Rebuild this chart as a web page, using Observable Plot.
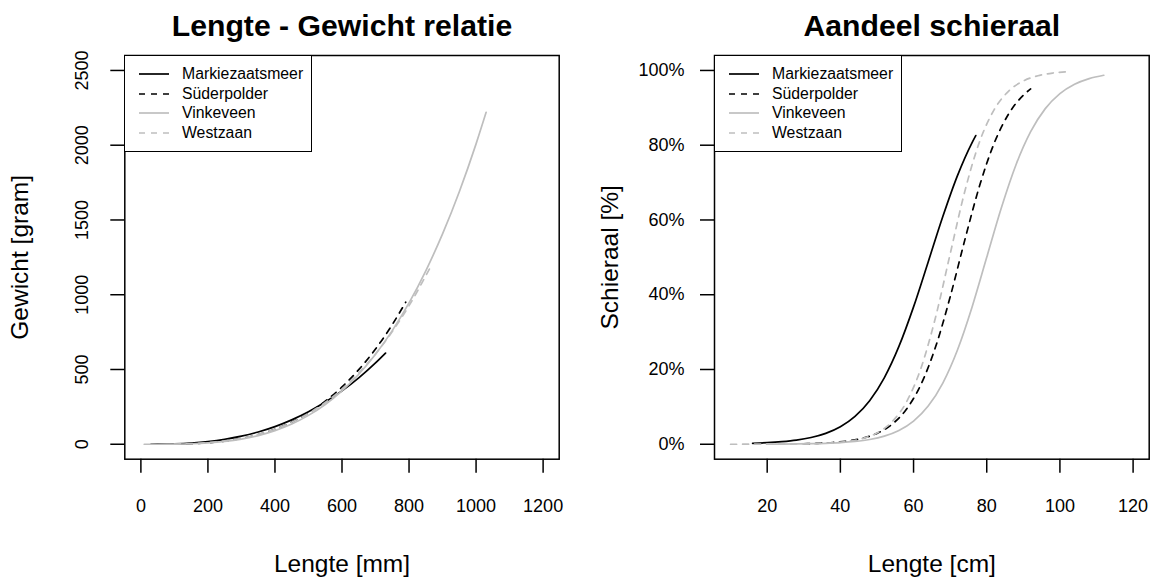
<!DOCTYPE html>
<html><head><meta charset="utf-8">
<script src="https://cdn.jsdelivr.net/npm/d3@7"></script>
<script src="https://cdn.jsdelivr.net/npm/@observablehq/plot@0.6"></script>
<style>
body{margin:0;background:#fff;font-family:"Liberation Sans",Arial,sans-serif;}
#wrap{position:relative;width:1151px;height:579px;overflow:hidden;background:#fff;}
.panel{position:absolute;top:0;}
.legend{position:absolute;top:55px;width:188px;height:97px;border:1.5px solid #000;box-sizing:border-box;background:#fff;}
.legend .row{position:absolute;left:0;height:20px;width:186px;}
.legend .row svg{position:absolute;left:13px;top:0;}
.legend .row span{position:absolute;left:57px;top:1px;font-size:15.8px;line-height:18px;color:#000;white-space:nowrap;}
</style></head><body><div id="wrap"></div>
<script>
// ---- series ----
const seriesNames = ["Markiezaatsmeer", "Süderpolder", "Vinkeveen", "Westzaan"];
const seriesColors = ["#000000", "#000000", "#bebebe", "#bebebe"];
const seriesDash = [null, "6,6", null, "6,6"];

// ---- Lengte - Gewicht relatie (length mm, weight gram) ----
const lwMarkLen = [30, 50, 100, 150, 200, 250, 300, 350, 400, 450, 500, 550, 600, 650, 700, 730];
const lwMarkW = [0.1, 0.4, 2.7, 8.1, 17.8, 32.8, 53.8, 82, 118, 163, 217, 282, 357, 444, 544, 610];
const lwSudLen = [100, 150, 200, 250, 300, 350, 400, 450, 500, 550, 600, 650, 700, 750, 790];
const lwSudW = [1.0, 4.0, 10.2, 21.3, 38.9, 64.7, 100.5, 148, 210, 288, 383, 499, 637, 800, 950];
const lwVinkLen = [10, 50, 100, 150, 200, 250, 300, 350, 400, 450, 500, 550, 600, 650, 700, 750, 800, 850, 900, 950, 1000, 1030];
const lwVinkW = [0, 0.1, 0.8, 3.3, 8.7, 18.5, 34.3, 57.8, 90.8, 135, 193, 266, 357, 468, 602, 760, 945, 1160, 1407, 1689, 2009, 2220];
const lwWestLen = [100, 150, 200, 250, 300, 350, 400, 450, 500, 550, 600, 650, 700, 750, 800, 865];
const lwWestW = [1.2, 4.4, 11.0, 22.4, 40.1, 65.8, 101, 147, 206, 279, 369, 477, 604, 754, 927, 1190];

// ---- Aandeel schieraal (length cm, proportion) ----
const sMarkLen = [16, 20, 24, 28, 32, 36, 40, 44, 48, 52, 56, 60, 64, 68, 72, 76, 77];
const sMarkP = [0.0025, 0.0041, 0.0068, 0.0110, 0.0180, 0.0292, 0.0469, 0.0746, 0.1166, 0.1778, 0.2617, 0.3675, 0.4878, 0.6092, 0.7187, 0.8072, 0.8258];
const sSudLen = [30, 34, 38, 42, 46, 50, 54, 58, 62, 66, 70, 74, 78, 82, 86, 90, 92];
const sSudP = [0.0014, 0.0026, 0.0047, 0.0087, 0.0159, 0.0291, 0.0525, 0.0930, 0.1595, 0.2600, 0.3939, 0.5461, 0.6900, 0.8046, 0.8840, 0.9338, 0.9505];
const sVinkLen = [20, 24, 28, 32, 36, 40, 44, 48, 52, 56, 60, 64, 68, 72, 76, 80, 84, 88, 92, 96, 100, 104, 108, 112];
const sVinkP = [0.0003, 0.0005, 0.0009, 0.0015, 0.0025, 0.0043, 0.0075, 0.0128, 0.0218, 0.0369, 0.0620, 0.1021, 0.1638, 0.2522, 0.3674, 0.5, 0.6326, 0.7478, 0.8362, 0.8979, 0.9380, 0.9631, 0.9782, 0.9872];
const sWestLen = [10, 14, 18, 22, 26, 30, 34, 38, 42, 46, 50, 54, 58, 62, 66, 70, 74, 78, 82, 86, 90, 94, 98, 102, 103];
const sWestP = [0.0000, 0.0001, 0.0001, 0.0002, 0.0005, 0.0009, 0.0019, 0.0038, 0.0076, 0.0151, 0.0301, 0.0589, 0.1120, 0.2029, 0.3392, 0.5088, 0.6763, 0.8083, 0.8947, 0.9449, 0.9719, 0.9859, 0.9930, 0.9965, 0.9970];

// ---- ticks ----
const lwXTicks = [0, 200, 400, 600, 800, 1000, 1200];
const lwYTicks = [0, 500, 1000, 1500, 2000, 2500];
const sXTicks = [20, 40, 60, 80, 100, 120];
const sYTicks = [0, 0.2, 0.4, 0.6, 0.8, 1.0];

const FONT = "Liberation Sans, Arial, sans-serif";

function lineMarks(xs, ys) {
  return xs.map((xv, i) => Plot.line(d3.zip(xv, ys[i]), {
    x: d => d[0], y: d => d[1],
    stroke: seriesColors[i], strokeWidth: 1.7,
    strokeDasharray: seriesDash[i], curve: "monotone-x"
  }));
}

function commonTexts(title, xLabel, yLabel) {
  return [
    Plot.text([title], {text: d => d, frameAnchor: "top", dy: -19.5, lineAnchor: "bottom", fontSize: 30.2, fontWeight: "bold", fill: "black"}),
    Plot.text([xLabel], {text: d => d, frameAnchor: "bottom", dy: 113, lineAnchor: "bottom", fontSize: 24.5, fill: "black"}),
    Plot.text([yLabel], {text: d => d, frameAnchor: "left", dx: -96.5, rotate: -90, textAnchor: "middle", lineAnchor: "bottom", fontSize: 24.5, fill: "black"})
  ];
}

// Left panel
const left = Plot.plot({
  width: 575, height: 579,
  marginLeft: 124.3, marginRight: 16.3, marginTop: 55, marginBottom: 120.3,
  style: {fontFamily: FONT, background: "white", color: "black", overflow: "visible"},
  x: {domain: [-48, 1248]},
  y: {domain: [-100, 2600]},
  marks: [
    ...lineMarks([lwMarkLen, lwSudLen, lwVinkLen, lwWestLen], [lwMarkW, lwSudW, lwVinkW, lwWestW]),
    Plot.frame({stroke: "black", strokeWidth: 1.5}),
    Plot.axisX(lwXTicks, {tickSize: 14, tickPadding: 26, fontSize: 18, strokeWidth: 1.5, label: null, tickFormat: d => String(d)}),
    Plot.axisY(lwYTicks, {tickSize: 14, strokeWidth: 1.5, label: null, tickFormat: () => ""}),
    Plot.text(lwYTicks, {y: d => d, text: d => String(d), frameAnchor: "left", dx: -42.5, rotate: -90, textAnchor: "middle", lineAnchor: "middle", fontSize: 18, fill: "black"}),
    ...commonTexts("Lengte - Gewicht relatie", "Lengte [mm]", "Gewicht [gram]")
  ]
});

// Right panel
const right = Plot.plot({
  width: 576, height: 579,
  marginLeft: 139, marginRight: 2.3, marginTop: 55, marginBottom: 120.3,
  style: {fontFamily: FONT, background: "white", color: "black", overflow: "visible"},
  x: {domain: [5.6, 124.4]},
  y: {domain: [-0.04, 1.04]},
  marks: [
    ...lineMarks([sMarkLen, sSudLen, sVinkLen, sWestLen], [sMarkP, sSudP, sVinkP, sWestP]),
    Plot.frame({stroke: "black", strokeWidth: 1.5}),
    Plot.axisX(sXTicks, {tickSize: 14, tickPadding: 26, fontSize: 18, strokeWidth: 1.5, label: null, tickFormat: d => String(d)}),
    Plot.axisY(sYTicks, {tickSize: 14, tickPadding: 16, fontSize: 18, strokeWidth: 1.5, label: null, tickFormat: d => Math.round(d * 100) + "%"}),
    ...commonTexts("Aandeel schieraal", "Lengte [cm]", "Schieraal [%]")
  ]
});

const wrap = document.getElementById("wrap");
left.classList.add("panel"); left.style.left = "0px";
right.classList.add("panel"); right.style.left = "575px";
wrap.appendChild(left);
wrap.appendChild(right);

function legend(leftPx) {
  const box = document.createElement("div");
  box.className = "legend";
  box.style.left = leftPx + "px";
  const rowCenters = [19.3, 39, 58.7, 78.4];
  seriesNames.forEach((name, i) => {
    const row = document.createElement("div");
    row.className = "row";
    row.style.top = (rowCenters[i] - 10 - 1.5) + "px";
    const svg = d3.create("svg").attr("width", 34).attr("height", 20);
    svg.append("line").attr("x1", 1).attr("x2", 31).attr("y1", 10).attr("y2", 10)
      .attr("stroke", seriesColors[i]).attr("stroke-width", 1.7)
      .attr("stroke-dasharray", seriesDash[i]);
    row.appendChild(svg.node());
    const span = document.createElement("span");
    span.textContent = name;
    row.appendChild(span);
    box.appendChild(row);
  });
  wrap.appendChild(box);
}
legend(124);
legend(714);
</script>
</body></html>
